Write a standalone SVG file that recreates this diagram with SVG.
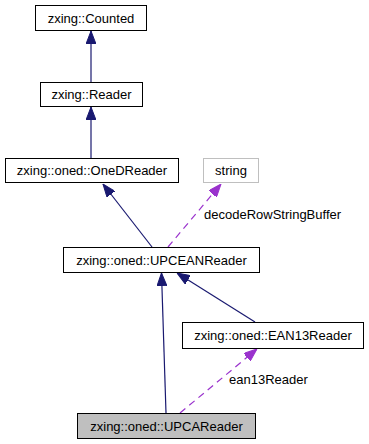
<svg xmlns="http://www.w3.org/2000/svg" width="369" height="444" viewBox="0 0 369 444">
  <style>
    .box { fill: #ffffff; stroke: #000000; stroke-width: 1; }
    .ext { fill: #ffffff; stroke: #bfbfbf; stroke-width: 1; }
    .cur { fill: #bfbfbf; stroke: #000000; stroke-width: 1; }
    text { font-family: "Liberation Sans", Arial, sans-serif; font-size: 13px; fill: #000000; }
    .lbl { text-anchor: middle; }
    .inh { stroke: #191970; stroke-width: 1.2; fill: none; }
    .use { stroke: #9a32cd; stroke-width: 1.2; fill: none; stroke-dasharray: 7,5; }
  </style>
  <defs>
    <marker id="arrInh" markerUnits="userSpaceOnUse" markerWidth="13" markerHeight="10" refX="13" refY="5" orient="auto">
      <path d="M0,0 L13,5 L0,10 z" fill="#191970" stroke="#191970" stroke-width="1"/>
    </marker>
    <marker id="arrUse" markerUnits="userSpaceOnUse" markerWidth="13" markerHeight="10" refX="13" refY="5" orient="auto">
      <path d="M0,0 L13,5 L0,10 z" fill="#9a32cd" stroke="#9a32cd" stroke-width="1"/>
    </marker>
  </defs>

  <g id="edges">
    <line class="inh" x1="91" y1="82" x2="91" y2="31" marker-end="url(#arrInh)"/>
    <line class="inh" x1="91" y1="158" x2="91" y2="107" marker-end="url(#arrInh)"/>
    <line class="inh" x1="152" y1="247" x2="103" y2="184" marker-end="url(#arrInh)"/>
    <line class="use" x1="168" y1="247" x2="221" y2="184" marker-end="url(#arrUse)"/>
    <text x="204" y="219">decodeRowStringBuffer</text>
    <line class="inh" x1="166" y1="413" x2="161.5" y2="273" marker-end="url(#arrInh)"/>
    <line class="inh" x1="255" y1="322" x2="177" y2="273" marker-end="url(#arrInh)"/>
    <line class="use" x1="180" y1="413" x2="257" y2="349" marker-end="url(#arrUse)"/>
    <text x="229" y="384">ean13Reader</text>
  </g>

  <g id="node-counted">
    <rect class="box" x="35.5" y="5.5" width="111" height="25"/>
    <text class="lbl" x="91" y="22.5">zxing::Counted</text>
  </g>
  <g id="node-reader">
    <rect class="box" x="40.5" y="82.5" width="102" height="24"/>
    <text class="lbl" x="91.5" y="99">zxing::Reader</text>
  </g>
  <g id="node-onedreader">
    <rect class="box" x="5.5" y="158.5" width="173" height="24"/>
    <text class="lbl" x="92" y="175">zxing::oned::OneDReader</text>
  </g>
  <g id="node-string">
    <rect class="ext" x="203.5" y="158.5" width="55" height="24"/>
    <text class="lbl" x="231" y="175">string</text>
  </g>
  <g id="node-upceanreader">
    <rect class="box" x="63.5" y="247.5" width="196" height="25"/>
    <text class="lbl" x="161.5" y="264.5">zxing::oned::UPCEANReader</text>
  </g>
  <g id="node-ean13reader">
    <rect class="box" x="182.5" y="322.5" width="181" height="26"/>
    <text class="lbl" x="273" y="340">zxing::oned::EAN13Reader</text>
  </g>
  <g id="node-upcareader">
    <rect class="cur" x="77.5" y="413.5" width="178" height="25"/>
    <text class="lbl" x="166.5" y="430.5">zxing::oned::UPCAReader</text>
  </g>
</svg>
